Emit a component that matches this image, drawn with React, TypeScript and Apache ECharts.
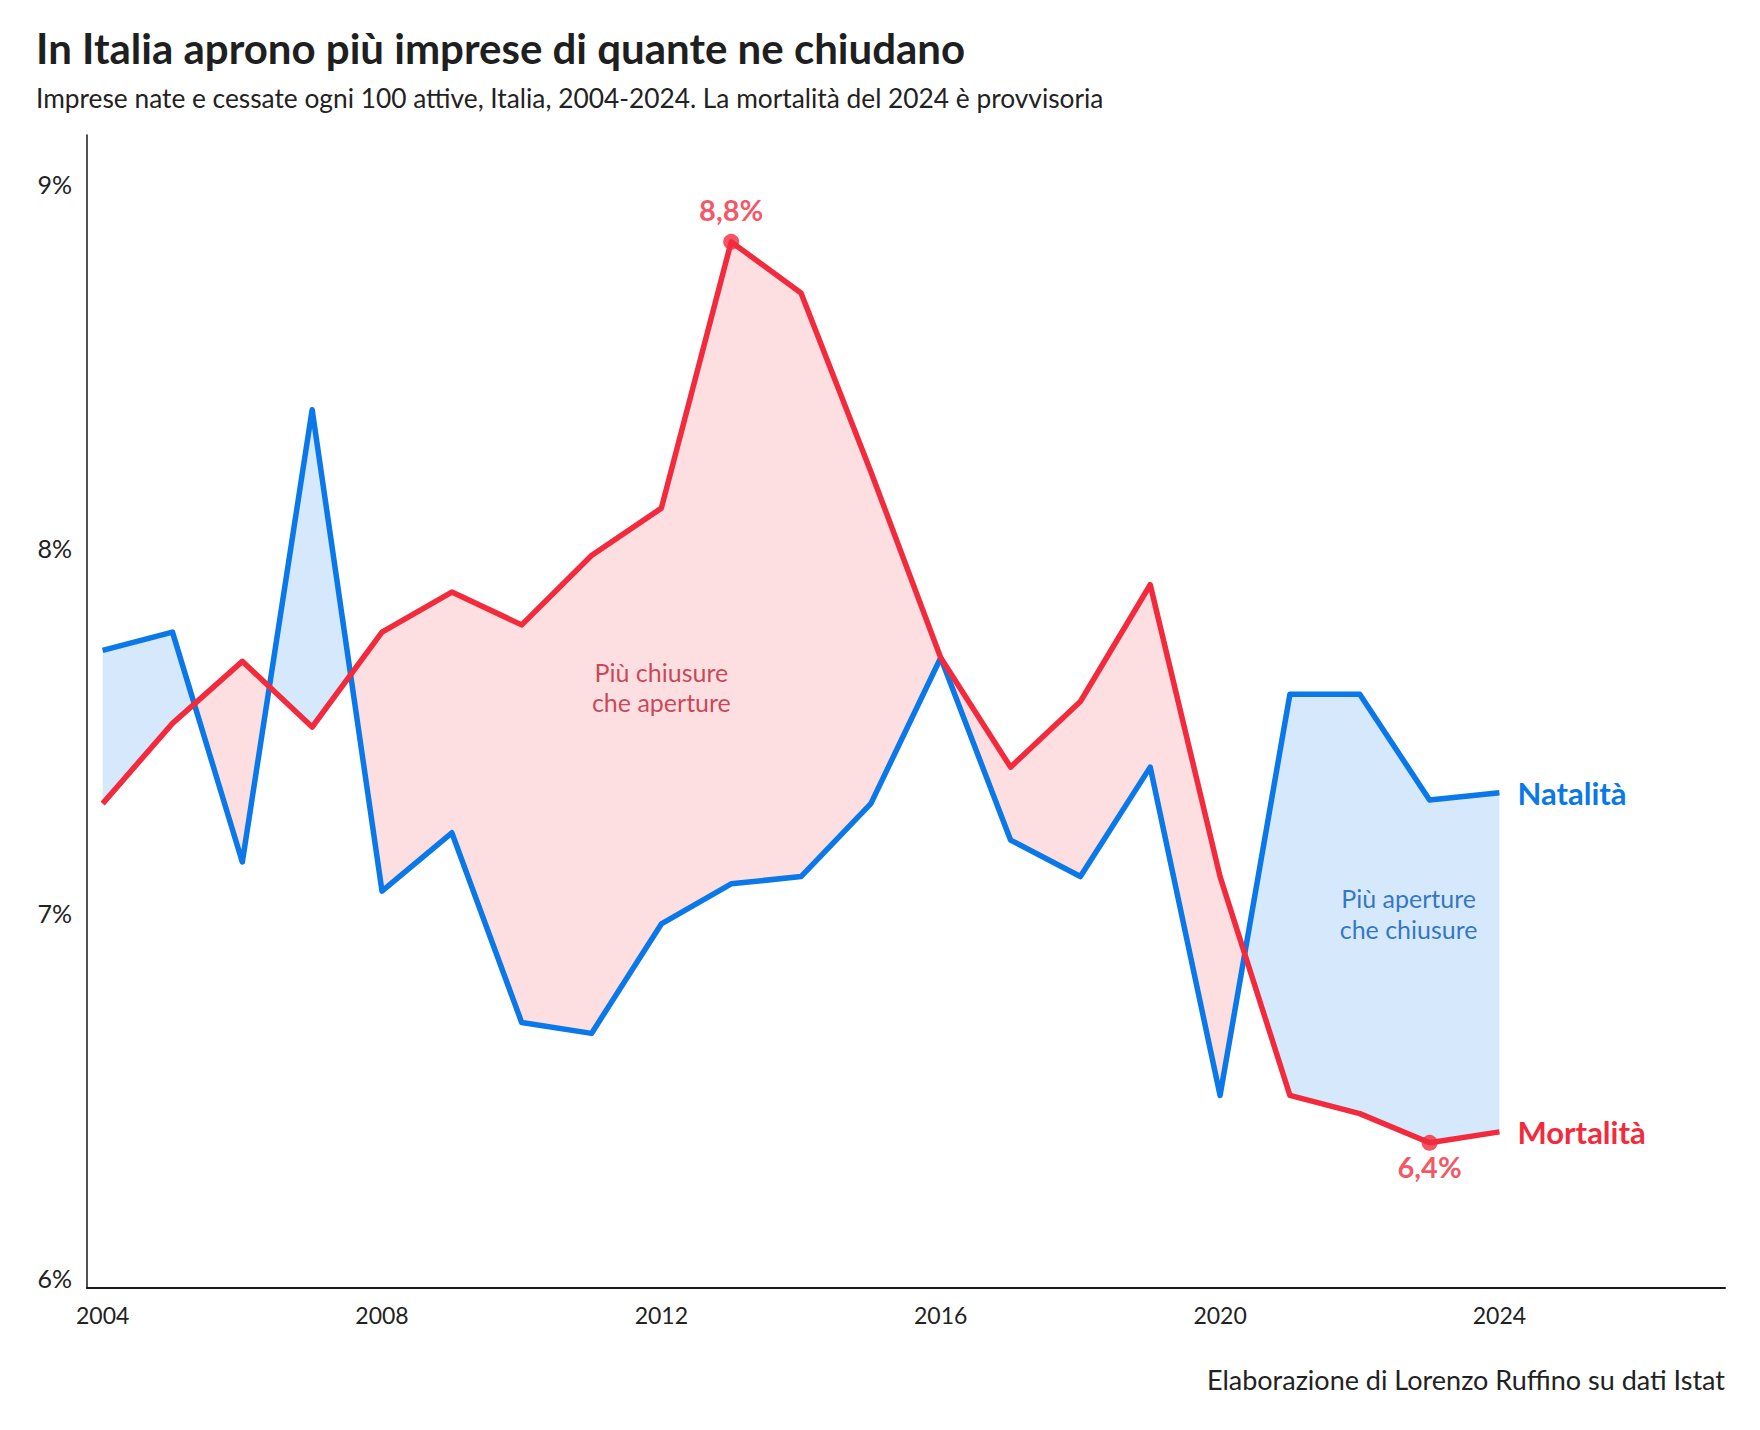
import React, { useEffect, useRef } from "react";
import * as echarts from "echarts";

const YEARS = [2004, 2005, 2006, 2007, 2008, 2009, 2010, 2011, 2012, 2013, 2014, 2015, 2016, 2017, 2018, 2019, 2020, 2021, 2022, 2023, 2024];
const NATALITA = [7.72, 7.77, 7.14, 8.38, 7.06, 7.22, 6.70, 6.67, 6.97, 7.08, 7.10, 7.30, 7.70, 7.20, 7.10, 7.40, 6.50, 7.60, 7.60, 7.31, 7.33];
const MORTALITA = [7.30, 7.52, 7.69, 7.51, 7.77, 7.88, 7.79, 7.98, 8.11, 8.84, 8.70, 8.21, 7.70, 7.40, 7.58, 7.90, 7.10, 6.50, 6.45, 6.37, 6.40];
const X_TICKS = [2004, 2008, 2012, 2016, 2020, 2024];
const Y_TICKS = [6, 7, 8, 9];
const HIGHLIGHT_YEARS = [2013, 2023];

const TITLE = "In Italia aprono più imprese di quante ne chiudano";
const SUBTITLE = "Imprese nate e cessate ogni 100 attive, Italia, 2004-2024. La mortalità del 2024 è provvisoria";
const FOOTER = "Elaborazione di Lorenzo Ruffino su dati Istat";
const NOTE_RED = { text: "Più chiusure\nche aperture", x: 2012, y: 7.62 };
const NOTE_BLUE = { text: "Più aperture\nche chiusure", x: 2022.7, y: 7.0 };

const BLUE = "#0A78E8";
const RED = "#F22A3C";
const BLUE_FILL = "#D5E8FC";
const RED_FILL = "#FDDFE2";
const FONT = "Lato, 'Noto Sans', sans-serif";

const fmtPct = (v: number) => v.toFixed(1).replace(".", ",") + "%";

export default function App() {
  const ref = useRef<HTMLDivElement>(null);
  useEffect(() => {
    document.body.style.margin = "0";
    const chart = echarts.init(ref.current!, undefined, { renderer: "svg" });

    const fillData = YEARS.map((y, i) => [y, NATALITA[i], MORTALITA[i]]);

    // The first item draws every band: contiguous stretches of the same sign
    // are merged into one polygon, split where the two lines cross or touch.
    const renderItem = (params: any, api: any) => {
      if (params.dataIndexInside !== 0) return null;
      const n = params.dataInsideLength;
      const pts: { x: number; a: number; b: number }[] = [];
      for (let i = 0; i < n; i++) {
        pts.push({ x: api.value(0, i), a: api.value(1, i), b: api.value(2, i) });
      }
      const parts: { top: number[][]; bot: number[][]; sign: number }[] = [];
      let cur = { top: [[pts[0].x, pts[0].a]], bot: [[pts[0].x, pts[0].b]], sign: 0 };
      for (let i = 1; i < n; i++) {
        const p0 = pts[i - 1], p1 = pts[i];
        const d0 = p0.a - p0.b, d1 = p1.a - p1.b;
        if (d0 * d1 < 0) {
          const t = d0 / (d0 - d1);
          const xc = p0.x + t * (p1.x - p0.x);
          const yc = p0.a + t * (p1.a - p0.a);
          cur.top.push([xc, yc]);
          cur.bot.push([xc, yc]);
          cur.sign = d0 > 0 ? 1 : -1;
          parts.push(cur);
          cur = { top: [[xc, yc]], bot: [[xc, yc]], sign: d1 > 0 ? 1 : -1 };
          cur.top.push([p1.x, p1.a]);
          cur.bot.push([p1.x, p1.b]);
        } else {
          cur.top.push([p1.x, p1.a]);
          cur.bot.push([p1.x, p1.b]);
          if (cur.sign === 0 && d0 + d1 !== 0) cur.sign = d0 + d1 > 0 ? 1 : -1;
          if (Math.abs(d1) < 1e-9 && i < n - 1) {
            parts.push(cur);
            cur = { top: [[p1.x, p1.a]], bot: [[p1.x, p1.b]], sign: 0 };
          }
        }
      }
      parts.push(cur);
      return {
        type: "group",
        children: parts.map((p) => ({
          type: "polygon",
          shape: { points: p.top.concat(p.bot.slice().reverse()).map((q) => api.coord(q)) },
          style: { fill: p.sign >= 0 ? BLUE_FILL : RED_FILL },
        })),
      };
    };

    const option: any = {
      animation: false,
      backgroundColor: "#ffffff",
      textStyle: { fontFamily: FONT },
      grid: { left: 87, right: 35, top: 135, bottom: 142, containLabel: false },
      xAxis: {
        type: "value",
        min: 2003.776,
        max: 2027.23,
        splitLine: { show: false },
        axisTick: { show: false },
        axisLine: { show: true, onZero: false, lineStyle: { color: "#1a1a1a", width: 2 } },
        axisLabel: {
          customValues: X_TICKS,
          formatter: (v: number) => String(v),
          color: "#222",
          fontSize: 23,
          fontFamily: FONT,
          margin: 15,
        },
      },
      yAxis: {
        type: "value",
        min: 5.972,
        max: 9.133,
        splitLine: { show: false },
        axisTick: { show: false },
        axisLine: { show: true, lineStyle: { color: "#1a1a1a", width: 1.5 } },
        axisLabel: {
          customValues: Y_TICKS,
          formatter: (v: number) => v + "%",
          color: "#222",
          fontSize: 25,
          fontFamily: FONT,
          margin: 15,
        },
      },
      series: [
        {
          type: "custom",
          renderItem,
          data: fillData,
          encode: { x: 0, y: [1, 2] },
          z: 1,
          silent: true,
        },
        {
          type: "line",
          name: "Natalità",
          data: YEARS.map((y, i) => [y, NATALITA[i]]),
          showSymbol: false,
          lineStyle: { color: BLUE, width: 5.5, join: "round" },
          itemStyle: { color: BLUE },
          z: 2,
          endLabel: {
            show: true,
            formatter: "Natalità",
            color: BLUE,
            fontSize: 31,
            fontWeight: "bold",
            fontFamily: FONT,
            distance: 18,
          },
        },
        {
          type: "line",
          name: "Mortalità",
          data: YEARS.map((y, i) => [y, MORTALITA[i]]),
          showSymbol: false,
          lineStyle: { color: RED, width: 5.5, join: "round" },
          itemStyle: { color: RED },
          z: 3,
          endLabel: {
            show: true,
            formatter: "Mortalità",
            color: RED,
            fontSize: 31,
            fontWeight: "bold",
            fontFamily: FONT,
            distance: 18,
          },
        },
        {
          type: "scatter",
          symbolSize: 16,
          itemStyle: { color: RED },
          z: 4,
          data: HIGHLIGHT_YEARS.map((y, k) => {
            const v = MORTALITA[YEARS.indexOf(y)];
            return {
              value: [y, v],
              label: {
                show: true,
                position: k === 0 ? "top" : "bottom",
                distance: k === 0 ? 10 : 1,
                formatter: fmtPct(v),
                color: RED,
                fontSize: 29,
                fontWeight: "bold",
                fontFamily: FONT,
              },
            };
          }),
        },
        {
          type: "scatter",
          symbolSize: 0,
          silent: true,
          z: 5,
          data: [
            {
              value: [NOTE_RED.x, NOTE_RED.y],
              label: {
                show: true, position: "inside", formatter: NOTE_RED.text,
                color: "#BC1D33", fontSize: 25, lineHeight: 30, fontFamily: FONT, align: "center",
              },
            },
            {
              value: [NOTE_BLUE.x, NOTE_BLUE.y],
              label: {
                show: true, position: "inside", formatter: NOTE_BLUE.text,
                color: "#0858B4", fontSize: 25, lineHeight: 31, fontFamily: FONT, align: "center",
              },
            },
          ],
        },
      ],
      graphic: [
        {
          type: "text", left: 36, top: 27,
          style: { text: TITLE, fontSize: 42, fontWeight: "bold", fill: "#1f1f1f", fontFamily: FONT },
        },
        {
          type: "text", left: 36, top: 85,
          style: { text: SUBTITLE, fontSize: 26.3, fill: "#222", fontFamily: FONT },
        },
        {
          type: "text", right: 35, top: 1366,
          style: { text: FOOTER, fontSize: 27, fill: "#222", fontFamily: FONT },
        },
      ],
    };
    chart.setOption(option);
    return () => chart.dispose();
  }, []);
  return <div ref={ref} style={{ position: "absolute", left: 0, top: 0, width: 1760, height: 1430 }} />;
}
